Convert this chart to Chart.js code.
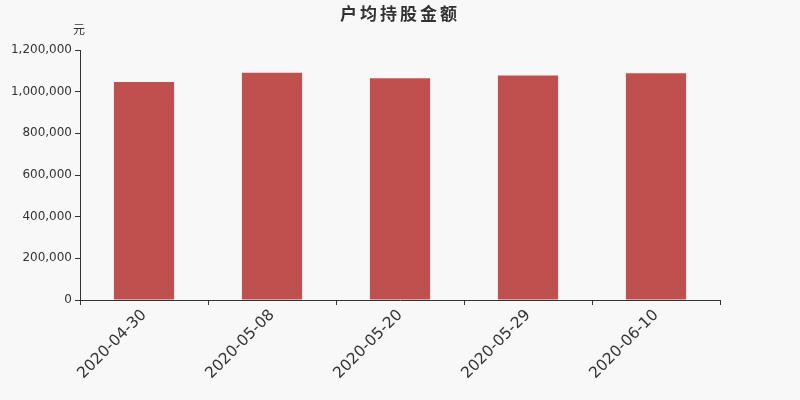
<!DOCTYPE html>
<html>
<head>
<meta charset="utf-8">
<script src="https://cdn.jsdelivr.net/npm/chart.js@4"></script>
<style>
  html, body { margin: 0; padding: 0; background: #f8f8f8; }
  #wrap { width: 800px; height: 400px; }
</style>
</head>
<body>
<div id="wrap"><canvas id="chart"></canvas></div>
<script>
// data
const dates = ['2020-04-30', '2020-05-08', '2020-05-20', '2020-05-29', '2020-06-10'];
const avgHolding = [1046000, 1091000, 1065000, 1078000, 1088000];
const yTicks = [0, 200000, 400000, 600000, 800000, 1000000, 1200000];

const titleText = '户均持股金额';
const unitText = '元';

// title and unit label drawn by hand
const headerPlugin = {
    id: 'header',
    afterDraw(chart) {
        const ctx = chart.ctx;
        const area = chart.chartArea;
        ctx.save();
        ctx.fillStyle = '#333';
        ctx.textBaseline = 'middle';
        ctx.textAlign = 'center';
        ctx.font = 'bold 17px "Noto Sans CJK SC", "DejaVu Sans", sans-serif';
        ctx.letterSpacing = '3px';
        ctx.fillText(titleText, 400, 14);
        ctx.letterSpacing = '0px';
        ctx.font = '12px "Noto Sans CJK SC", "DejaVu Sans", sans-serif';
        ctx.fillText(unitText, area.left - 1, 29);
        ctx.restore();
    }
};

new Chart(document.getElementById('chart'), {
    type: 'bar',
    data: {
        labels: dates,
        datasets: [{
            data: avgHolding,
            backgroundColor: '#c0504d',
            borderWidth: 0,
            categoryPercentage: 1,
            barPercentage: 0.47
        }]
    },
    options: {
        responsive: true,
        maintainAspectRatio: false,
        animation: false,
        layout: { padding: { top: 50, right: 80, bottom: 0, left: 0 } },
        plugins: {
            legend: { display: false },
            title: { display: false },
            tooltip: { enabled: false }
        },
        scales: {
            x: {
                offset: true,
                grid: {
                    offset: true,
                    drawOnChartArea: false,
                    drawTicks: true,
                    tickLength: 5,
                    color: '#333'
                },
                border: { color: '#333', width: 1 },
                ticks: {
                    color: '#333',
                    font: { family: '"DejaVu Sans"', size: 15.5 },
                    minRotation: 45,
                    maxRotation: 45,
                    padding: 1
                },
                afterFit(scale) { scale.height = 100; }
            },
            y: {
                min: 0,
                max: 1200000,
                afterBuildTicks(scale) { scale.ticks = yTicks.map(v => ({ value: v })); },
                grid: {
                    drawOnChartArea: false,
                    drawTicks: true,
                    tickLength: 5,
                    color: '#333'
                },
                border: { color: '#333', width: 1 },
                ticks: {
                    color: '#333',
                    font: { family: '"DejaVu Sans"', size: 12 },
                    padding: 3,
                    callback: v => v.toLocaleString('en-US')
                },
                afterFit(scale) { scale.width = 80; }
            }
        }
    },
    plugins: [headerPlugin]
});
</script>
</body>
</html>
